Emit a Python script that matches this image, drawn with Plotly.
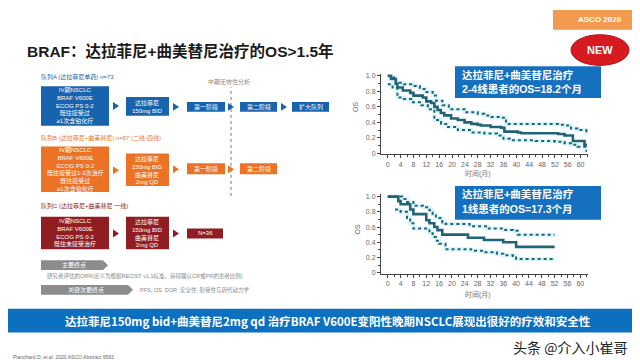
import plotly.graph_objects as go

W, H = 640, 360
def X(x): return x / W
def Y(y): return 1 - y / H

# ---------------- data ----------------
title_text = "BRAF：达拉菲尼+曲美替尼治疗的OS>1.5年"

# KM panel 1 : 2-4 line (cohort B)
km1_t = [0, 1, 2.5, 3, 4.7, 7, 8, 10.9, 12, 13.5, 14.5, 15.5, 16.5, 17.6, 19.7, 21.8, 23.9, 26, 28, 29, 32, 35.3, 36.3, 40.5, 41.5, 53, 55, 57.6, 61.2, 62]
km1_s = [1.0, 0.96, 0.90, 0.85, 0.81, 0.78, 0.745, 0.72, 0.67, 0.65, 0.60, 0.56, 0.52, 0.49, 0.45, 0.43, 0.40, 0.38, 0.37, 0.36, 0.34, 0.33, 0.28, 0.27, 0.26, 0.25, 0.23, 0.16, 0.11, 0.11]
km1_up_t = [0, 1.5, 2.5, 5, 8, 10, 12, 14, 15, 17, 19, 23.9, 28, 30, 32, 35.3, 36.8, 53, 55, 57, 59, 61.8, 62]
km1_up_s = [1.0, 0.98, 0.91, 0.89, 0.87, 0.83, 0.79, 0.745, 0.68, 0.62, 0.57, 0.53, 0.51, 0.49, 0.47, 0.46, 0.38, 0.37, 0.36, 0.32, 0.30, 0.255, 0.255]
km1_lo_t = [0, 1.5, 3, 5, 7.3, 10.4, 12.5, 14.5, 16.6, 18.7, 21.8, 26, 30, 34, 36, 38, 46, 52, 55, 57, 59, 61.5, 62]
km1_lo_s = [0.89, 0.85, 0.72, 0.70, 0.66, 0.62, 0.57, 0.43, 0.38, 0.34, 0.30, 0.27, 0.255, 0.23, 0.19, 0.17, 0.16, 0.15, 0.13, 0.11, 0.085, 0.035, 0.035]

# KM panel 2 : first line (cohort C)
km2_t = [0, 3.3, 4, 7, 8, 12, 13, 14.5, 15.5, 17, 25, 30, 36, 40, 52]
km2_s = [1.0, 0.94, 0.90, 0.83, 0.77, 0.69, 0.65, 0.60, 0.56, 0.50, 0.46, 0.43, 0.40, 0.34, 0.34]
km2_up_t = [0, 4.5, 6, 8, 11, 13, 14, 15, 17, 18, 25.5, 31, 36, 39, 40.5, 52]
km2_up_s = [1.0, 0.97, 0.93, 0.88, 0.86, 0.82, 0.77, 0.72, 0.66, 0.64, 0.61, 0.58, 0.56, 0.55, 0.50, 0.50]
km2_lo_t = [2.3, 4, 6, 7, 8, 13, 14, 15, 16, 18, 26, 30, 34, 36, 39, 40, 52]
km2_lo_s = [0.83, 0.80, 0.72, 0.65, 0.58, 0.52, 0.47, 0.42, 0.38, 0.31, 0.29, 0.27, 0.25, 0.23, 0.22, 0.18, 0.18]

x_ticks = list(range(0, 61, 4))
y_ticks = [0, 0.2, 0.4, 0.6, 0.8, 1.0]
y_ticktext = ["0", "0.2", "0.4", "0.6", "0.8", "1.0"]

callout1 = ["达拉菲尼+曲美替尼治疗", "2-4线患者的OS=18.2个月"]
callout2 = ["达拉菲尼+曲美替尼治疗", "1线患者的OS=17.3个月"]
x_title = "时间(月)"
y_title = "OS"

cohortA = "队列A (达拉菲尼单药) n=73"
cohortB = "队列B (达拉菲尼+曲美替尼) n=57 (二线-四线)"
cohortC = "队列C (达拉菲尼+曲美替尼 一线)"
interim = "中期无效性分析"
boxA1 = ["IV期NSCLC", "BRAF V600E", "ECOG PS 0-2", "既往接受过", "≥1次含铂化疗"]
boxB1 = ["IV期NSCLC", "BRAF V600E", "ECOG PS 0-2", "既往接受过1-3次治疗", "既往接受过", "≥1次含铂化疗"]
boxC1 = ["IV期NSCLC", "BRAF V600E", "ECOG PS 0-2", "既往未接受治疗"]
drugA = ["达拉菲尼", "150mg BID"]
drugBC = ["达拉菲尼", "150mg BID", "曲美替尼", "2mg QD"]
stages = ["第一阶段", "第二阶段", "扩大队列"]
nC = "N=36"
primary = "主要终点"
primary_txt = "研究者评估的ORR(定义为根据RECIST v1.1标准，获得确认CR或PR的患者比例)"
secondary = "关键次要终点"
secondary_txt = "PFS, OS, DOR, 安全性, 耐受性与药代动力学"
banner = "达拉菲尼150mg bid+曲美替尼2mg qd 治疗BRAF V600E变阳性晚期NSCLC展现出很好的疗效和安全性"
watermark = "头条 @介入小崔哥"
citation = "Planchard D, et al. 2020 ASCO Abstract 9593."
badge = "ASCO 2020"
new_txt = "NEW"

# ---------------- figure ----------------
CJK = "Liberation Sans, Noto Sans CJK SC, sans-serif"
NARROW = "Liberation Sans Narrow, Noto Sans CJK SC, sans-serif"
teal = "#1f6479"
glow = "rgba(150,230,240,0.35)"

fig = go.Figure()

def add_km(t, s, xa, ya, dotted):
    if dotted:
        fig.add_trace(go.Scatter(x=t, y=s, mode="lines", xaxis=xa, yaxis=ya,
                                 line=dict(shape="hv", color=glow, width=4),
                                 hoverinfo="skip", showlegend=False))
        fig.add_trace(go.Scatter(x=t, y=s, mode="lines", xaxis=xa, yaxis=ya,
                                 line=dict(shape="hv", color=teal, width=2, dash="dot"),
                                 showlegend=False))
    else:
        fig.add_trace(go.Scatter(x=t, y=s, mode="lines", xaxis=xa, yaxis=ya,
                                 line=dict(shape="hv", color=teal, width=2.6),
                                 showlegend=False))

add_km(km1_up_t, km1_up_s, "x", "y", True)
add_km(km1_lo_t, km1_lo_s, "x", "y", True)
add_km(km1_t, km1_s, "x", "y", False)
add_km(km2_up_t, km2_up_s, "x2", "y2", True)
add_km(km2_lo_t, km2_lo_s, "x2", "y2", True)
add_km(km2_t, km2_s, "x2", "y2", False)

axis_common = dict(showgrid=False, zeroline=False, showline=True, linecolor="#444", linewidth=1,
                   ticks="outside", ticklen=3, tickcolor="#444",
                   tickfont=dict(size=7, color="#666", family="Liberation Sans"))

xa = dict(axis_common, tickmode="array", tickvals=x_ticks,
          minor=dict(tickvals=[v + 2 for v in x_ticks], ticks="outside", ticklen=2, tickcolor="#444"))
ya = dict(axis_common, tickmode="array", tickvals=y_ticks, ticktext=y_ticktext,
          minor=dict(tickvals=[0.1, 0.3, 0.5, 0.7, 0.9], ticks="outside", ticklen=2, tickcolor="#444"))

fig.update_layout(
    width=W, height=360, autosize=False,
    margin=dict(l=0, r=0, t=0, b=0),
    paper_bgcolor="white", plot_bgcolor="white",
    showlegend=False,
    xaxis=dict(xa, domain=[X(373), X(580)], range=[-2.1, 62.3], anchor="y"),
    yaxis=dict(ya, domain=[Y(146), Y(65)], range=[-0.013, 1.02], anchor="x"),
    xaxis2=dict(xa, domain=[X(373), X(580)], range=[-2.1, 62.4], anchor="y2"),
    yaxis2=dict(ya, domain=[Y(267), Y(186)], range=[-0.017, 1.035], anchor="x2"),
)

shapes = []
ann = []

def rect(x0, y0, x1, y1, color, layer="above"):
    shapes.append(dict(type="rect", xref="paper", yref="paper", x0=X(x0), x1=X(x1), y0=Y(y1), y1=Y(y0),
                       fillcolor=color, line=dict(width=0), layer=layer))

def path(pts, color):
    d = "M " + " L ".join(f"{X(px):.5f},{Y(py):.5f}" for px, py in pts) + " Z"
    shapes.append(dict(type="path", xref="paper", yref="paper", path=d, fillcolor=color,
                       line=dict(width=0), layer="above"))

def tri(cx, cy, color):
    path([(cx - 3, cy - 4), (cx + 3, cy), (cx - 3, cy + 4)], color)

def txt(x, y, text, size, color, xanchor="center", family=CJK, textangle=0):
    ann.append(dict(x=X(x), y=Y(y), xref="paper", yref="paper", text=text, showarrow=False,
                    xanchor=xanchor, yanchor="middle", textangle=textangle,
                    font=dict(size=size, color=color, family=family)))

# header
rect(545, 0, 640, 20, "#f19a50")
txt(592, 10, f"<b>{badge}</b>", 8, "white")
shapes.append(dict(type="circle", xref="paper", yref="paper", x0=X(563), x1=X(621), y0=Y(56), y1=Y(25),
                   fillcolor="#d71920", line=dict(color="#b01018", width=1), layer="above"))
txt(592, 40, f"<b>{new_txt}</b>", 11, "white")
txt(17, 41, f"<b>{title_text}</b>", 15.5, "#1a1a1a", xanchor="left")

# callouts
for (y0, y1, lines) in [(57, 89, callout1), (178, 212, callout2)]:
    rect(447, y0, 593, y1, "#1570bf")
    txt(452, y0 + 8.5, f"<b>{lines[0]}</b>", 10.5, "white", xanchor="left")
    txt(452, y0 + 23, f"<b>{lines[1]}</b>", 10.5, "white", xanchor="left")

# axis titles
txt(348, 98, y_title, 7, "#666", textangle=-90)
txt(350, 222, y_title, 7, "#666", textangle=-90)
txt(470, 165, x_title, 7, "#777")
txt(470, 288, x_title, 7, "#777")

# flowchart
BLUE, ORANGE, RED, GRAY = "#1763ad", "#ec7326", "#8f1d21", "#8c8c8c"
txt(31, 68, cohortA, 6, BLUE, xanchor="left")
txt(221, 73, interim, 6, "#888")
shapes.append(dict(type="line", xref="paper", yref="paper", x0=X(223), x1=X(223), y0=Y(188), y1=Y(78),
                   line=dict(color="#777", width=1, dash="dot")))

rect(33, 77, 101, 117, BLUE)
txt(67, 97, "<br>".join(boxA1), 6, "white")
tri(108, 97, BLUE)
rect(118, 88, 161, 107, BLUE)
txt(139.5, 97.5, "<br>".join(drugA), 6, "white")
tri(168, 98, BLUE)
for (x0, x1, s) in [(179, 217, stages[0]), (232, 269, stages[1]), (284, 321, stages[2])]:
    rect(x0, 93, x1, 103, BLUE)
    txt((x0 + x1) / 2, 98, s, 6, "white")
tri(223, 98, BLUE)
tri(276, 98, BLUE)

txt(31, 129, cohortB, 6, ORANGE, xanchor="left")
rect(33, 138, 101, 184, ORANGE)
txt(67, 161, "<br>".join(boxB1), 6, "white")
tri(108, 162, ORANGE)
rect(118, 145, 161, 178, ORANGE)
txt(139.5, 161.5, "<br>".join(drugBC), 6, "white")
tri(168, 161, ORANGE)
for (x0, x1, s) in [(179, 217, stages[0]), (232, 269, stages[1])]:
    rect(x0, 155, x1, 166, ORANGE)
    txt((x0 + x1) / 2, 160.5, s, 6, "white")
tri(223, 161, ORANGE)

txt(31, 198, cohortC, 6, RED, xanchor="left")
rect(33, 209, 101, 242, RED)
txt(67, 225.5, "<br>".join(boxC1), 6, "white")
tri(108, 226, RED)
rect(118, 209, 161, 242, RED)
txt(139.5, 225.5, "<br>".join(drugBC), 6, "white")
tri(168, 226, RED)
rect(179, 221, 215, 231, RED)
txt(197, 226, nC, 6, "white")

path([(33, 253), (95, 253), (100, 258), (95, 263), (33, 263)], GRAY)
txt(66, 258, primary, 6, "white")
txt(37, 269, primary_txt, 5.5, "#888", xanchor="left")
path([(33, 278), (120, 278), (125, 283), (120, 288), (33, 288)], GRAY)
txt(78, 283, secondary, 6, "white")
txt(130, 283, secondary_txt, 5.5, "#888", xanchor="left")

# banner & footer
rect(0, 302, 640, 326, "#0c6fc0")
txt(320, 314, f"<b>{banner}</b>", 11.5, "white", family=NARROW)
txt(562, 341, watermark, 14, "#222", family="Noto Sans CJK SC")
txt(3, 351, citation, 5, "#666", xanchor="left")

fig.update_layout(shapes=shapes, annotations=ann)
fig.write_html("out.html")
